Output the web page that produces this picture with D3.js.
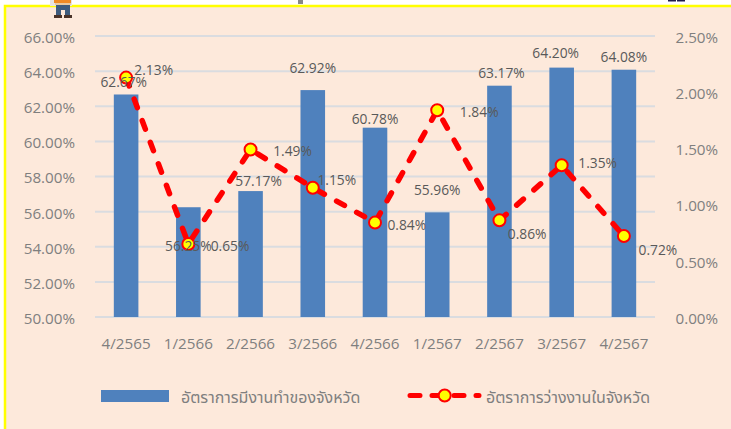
<!DOCTYPE html>
<html>
<head>
<meta charset="utf-8">
<script src="https://cdnjs.cloudflare.com/ajax/libs/d3/7.8.5/d3.min.js"></script>
<style>
  html, body { margin: 0; padding: 0; background: #fff; overflow: hidden; }
  svg { display: block; }
  text { font-family: "Open Sans", "Noto Sans", "Noto Sans Thai", sans-serif; }
</style>
</head>
<body>
<svg id="chart" width="731" height="429"></svg>
<script>
var quarters = ['4/2565', '1/2566', '2/2566', '3/2566', '4/2566', '1/2567', '2/2567', '3/2567', '4/2567'];
var employment = [62.67, 56.25, 57.17, 62.92, 60.78, 55.96, 63.17, 64.20, 64.08];
var unemployment = [2.13, 0.65, 1.49, 1.15, 0.84, 1.84, 0.86, 1.35, 0.72];
var leftTicks = [50, 52, 54, 56, 58, 60, 62, 64, 66];
var rightTicks = [0, 0.5, 1, 1.5, 2, 2.5];
var barName = 'อัตราการมีงานทำของจังหวัด';
var lineName = 'อัตราการว่างงานในจังหวัด';

// hand placed data labels, they overlap the marks in the original too
var barLabelShift = [[-2.4, -12.5], [0, 39], [8, -10], [0, -22], [0, -9], [0, -22], [2, -13], [-6, -14.6], [0, -13]];
var lineLabelShift = [[27.6, -7.6], [41.7, 2], [42, 1.5], [24, -7.7], [31.8, 2.4], [42, 2], [27.7, 13.7], [36, -2.3], [34, 14]];

var svg = d3.select('#chart');
var plotLeft = 95, plotRight = 655, plotTop = 36, plotBottom = 317;

// background panel with the yellow frame clipped by the window
svg.append('rect').attr('width', 731).attr('height', 429).attr('fill', '#fff');
svg.append('rect').attr('x', 5).attr('y', 6).attr('width', 740).attr('height', 440)
  .attr('fill', '#FDE9DB').attr('stroke', '#FFFF00').attr('stroke-width', 2.5);

var x = d3.scaleBand().domain(quarters).range([plotLeft, plotRight])
  .paddingInner(0.605).paddingOuter(0.3025);
var xMid = function (q) { return x(q) + x.bandwidth() / 2; };
var yLeft = d3.scaleLinear().domain([50, 66]).range([plotBottom, plotTop]);
var yRight = d3.scaleLinear().domain([0, 2.5]).range([plotBottom, plotTop]);

var fmt = function (d) { return d.toFixed(2) + '%'; };

// gridlines
svg.append('g').selectAll('line').data(leftTicks).enter().append('line')
  .attr('x1', plotLeft).attr('x2', plotRight)
  .attr('y1', function (d) { return yLeft(d); })
  .attr('y2', function (d) { return yLeft(d); })
  .attr('stroke', '#DADCE0').attr('stroke-width', 2);

// axes, only the labels are visible
var axisLeft = svg.append('g').attr('transform', 'translate(' + plotLeft + ',1.5)')
  .call(d3.axisLeft(yLeft).tickValues(leftTicks).tickFormat(fmt).tickSize(0).tickPadding(20));
var axisRight = svg.append('g').attr('transform', 'translate(' + plotRight + ',1.5)')
  .call(d3.axisRight(yRight).tickValues(rightTicks).tickFormat(fmt).tickSize(0).tickPadding(20.5));
var axisBottom = svg.append('g').attr('transform', 'translate(0,' + plotBottom + ')')
  .call(d3.axisBottom(x).tickSize(0).tickPadding(21.5));
[axisLeft, axisRight, axisBottom].forEach(function (a) {
  a.select('.domain').remove();
  a.selectAll('text').attr('fill', '#7F7F7F').style('font-size', '15.2px');
});

// bars
svg.append('g').selectAll('rect').data(employment).enter().append('rect')
  .attr('x', function (d, i) { return x(quarters[i]); })
  .attr('y', function (d) { return yLeft(d); })
  .attr('width', x.bandwidth())
  .attr('height', function (d) { return plotBottom - yLeft(d); })
  .attr('fill', '#4F81BD');

// unemployment line
var line = d3.line()
  .x(function (d, i) { return xMid(quarters[i]); })
  .y(function (d) { return yRight(d); });
svg.append('path').datum(unemployment)
  .attr('d', line).attr('fill', 'none')
  .attr('stroke', '#FF0000').attr('stroke-width', 5.5)
  .attr('stroke-linecap', 'round').attr('stroke-dasharray', '9 14');

svg.append('g').selectAll('circle').data(unemployment).enter().append('circle')
  .attr('cx', function (d, i) { return xMid(quarters[i]); })
  .attr('cy', function (d) { return yRight(d); })
  .attr('r', 6).attr('fill', '#FFFF00')
  .attr('stroke', '#FF0000').attr('stroke-width', 2);

// data labels
svg.append('g').selectAll('text').data(employment).enter().append('text')
  .attr('x', function (d, i) { return xMid(quarters[i]) + barLabelShift[i][0]; })
  .attr('y', function (d, i) { return yLeft(d) + barLabelShift[i][1]; })
  .attr('text-anchor', 'middle').attr('dy', '0.35em')
  .attr('fill', '#595959').style('font-size', '13.8px')
  .text(fmt);
svg.append('g').selectAll('text').data(unemployment).enter().append('text')
  .attr('x', function (d, i) { return xMid(quarters[i]) + lineLabelShift[i][0]; })
  .attr('y', function (d, i) { return yRight(d) + lineLabelShift[i][1]; })
  .attr('text-anchor', 'middle').attr('dy', '0.35em')
  .attr('fill', '#595959').style('font-size', '13.8px')
  .text(fmt);

// legend
svg.append('rect').attr('x', 101).attr('y', 390).attr('width', 68).attr('height', 12).attr('fill', '#4F81BD');
svg.append('text').attr('x', 181).attr('y', 397).attr('dy', '0.35em')
  .attr('fill', '#7F7F7F').style('font-size', '16px').text(barName);
svg.append('line').attr('x1', 410).attr('x2', 479).attr('y1', 395.5).attr('y2', 395.5)
  .attr('stroke', '#FF0000').attr('stroke-width', 5)
  .attr('stroke-linecap', 'round').attr('stroke-dasharray', '10 12');
svg.append('circle').attr('cx', 444.7).attr('cy', 395.5).attr('r', 6)
  .attr('fill', '#FFFF00').attr('stroke', '#FF0000').attr('stroke-width', 2);
svg.append('text').attr('x', 486).attr('y', 397).attr('dy', '0.35em')
  .attr('fill', '#7F7F7F').style('font-size', '16px').text(lineName);

// the little worker picture cut off by the top edge
var icon = svg.append('g');
icon.append('rect').attr('x', 50).attr('y', 0).attr('width', 22).attr('height', 6).attr('fill', '#E8E4DF');
icon.append('rect').attr('x', 54).attr('y', 0).attr('width', 17).attr('height', 3).attr('fill', '#F08A24');
icon.append('rect').attr('x', 55).attr('y', 3).attr('width', 16).attr('height', 2).attr('fill', '#E9C9A0');
icon.append('rect').attr('x', 56).attr('y', 5).attr('width', 14).attr('height', 5).attr('fill', '#3E5C7E');
icon.append('rect').attr('x', 56).attr('y', 10).attr('width', 5).attr('height', 5).attr('fill', '#3E5C7E');
icon.append('rect').attr('x', 65).attr('y', 10).attr('width', 5).attr('height', 5).attr('fill', '#3E5C7E');
icon.append('rect').attr('x', 54).attr('y', 15).attr('width', 8).attr('height', 3).attr('fill', '#4A3328');
icon.append('rect').attr('x', 64).attr('y', 15).attr('width', 8).attr('height', 3).attr('fill', '#4A3328');
// clipped bits of the title above the panel
svg.append('rect').attr('x', 298).attr('y', 0).attr('width', 5).attr('height', 4).attr('fill', '#888');
svg.append('rect').attr('x', 668).attr('y', 0).attr('width', 8).attr('height', 1.5).attr('fill', '#1F1A4D');
svg.append('rect').attr('x', 677).attr('y', 0).attr('width', 8).attr('height', 1.5).attr('fill', '#1F1A4D');
</script>
</body>
</html>
